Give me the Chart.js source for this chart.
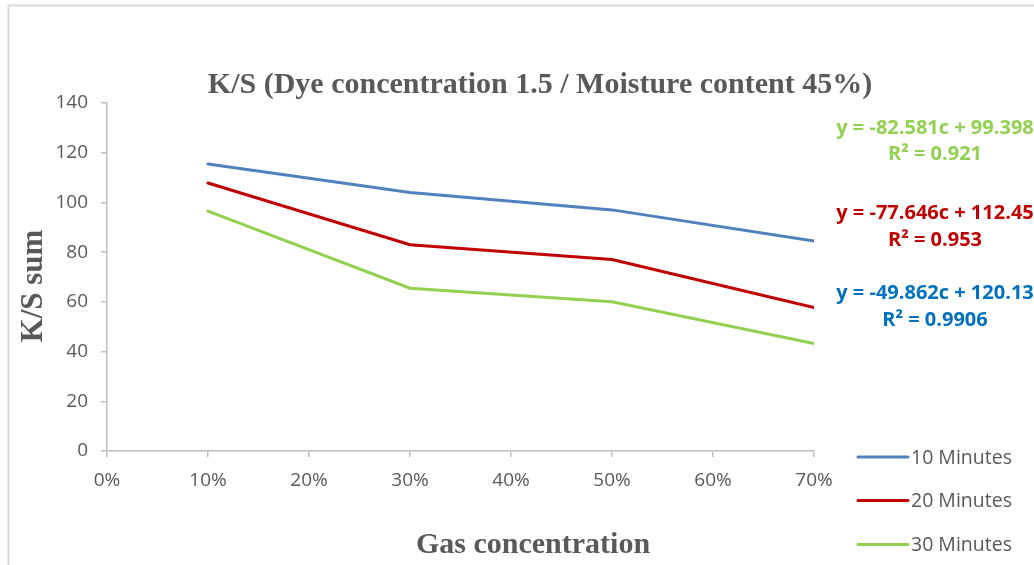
<!DOCTYPE html>
<html>
<head>
<meta charset="utf-8">
<style>
  html, body { margin: 0; padding: 0; background: #ffffff; }
  #wrap { position: relative; width: 1034px; height: 565px; }
</style>
<script src="https://cdn.jsdelivr.net/npm/chart.js@4/dist/chart.umd.min.js"></script>
</head>
<body>
<div id="wrap"><canvas id="chart"></canvas></div>
<script>
// Gas concentration (fraction) and K/S sums per dyeing time
const gasConcentration = [0.1, 0.3, 0.5, 0.7];
const seriesNames = ['10 Minutes', '20 Minutes', '30 Minutes'];
const ks10 = [115.5, 104, 97, 84.5];
const ks20 = [107.8, 83, 77, 57.7];
const ks30 = [96.5, 65.5, 60, 43.2];
const yTicks = [0, 20, 40, 60, 80, 100, 120, 140];
const xTicks = [0, 0.1, 0.2, 0.3, 0.4, 0.5, 0.6, 0.7];
const chartTitle = 'K/S (Dye concentration 1.5 / Moisture content 45%)';
const xTitle = 'Gas concentration';
const yTitle = 'K/S sum';
// Linear trendline labels, top to bottom
const trendLabels = [
  ['y = -82.581c + 99.398', 'R² = 0.921'],
  ['y = -77.646c + 112.45', 'R² = 0.953'],
  ['y = -49.862c + 120.13', 'R² = 0.9906']
];

const lineColors = ['#4f81bd', '#c00000', '#92d050'];
const trendColors = ['#92d050', '#c00000', '#0070c0'];
const textGray = '#595959';
const axisGray = '#bfbfbf';
const serif = "'Liberation Serif', 'Times New Roman', serif";
const tickFont = { family: "'Open Sans', sans-serif", size: 19 };

function points(values) {
  return gasConcentration.map((c, i) => ({ x: c, y: values[i] }));
}

// Frame, titles, trendline equations and legend drawn around the plot
const extras = {
  id: 'extras',
  beforeDraw(chart) {
    const ctx = chart.ctx;
    ctx.save();
    ctx.strokeStyle = '#d9d9d9';
    ctx.lineWidth = 2;
    ctx.beginPath();
    ctx.moveTo(8.5, 565);
    ctx.lineTo(8.5, 5.5);
    ctx.lineTo(1034, 5.5);
    ctx.stroke();
    ctx.restore();
  },
  afterDraw(chart) {
    const ctx = chart.ctx;
    ctx.save();
    ctx.fillStyle = textGray;
    ctx.textAlign = 'center';
    ctx.textBaseline = 'alphabetic';
    ctx.font = 'bold 30px ' + serif;
    ctx.fillText(chartTitle, 540, 93);
    ctx.font = 'bold 30px ' + serif;
    ctx.fillText(xTitle, 533, 553);
    ctx.save();
    ctx.translate(42, 286);
    ctx.rotate(-Math.PI / 2);
    ctx.font = 'bold 31px ' + serif;
    ctx.fillText(yTitle, 0, 0);
    ctx.restore();

    // trendline equations
    ctx.font = "bold 20px 'Open Sans', sans-serif";
    ctx.textBaseline = 'middle';
    const eqY = [[128, 154], [213, 240], [293, 320]];
    trendLabels.forEach((lines, i) => {
      ctx.fillStyle = trendColors[i];
      ctx.fillText(lines[0], 935, eqY[i][0]);
      ctx.fillText(lines[1], 935, eqY[i][1]);
    });

    // legend
    ctx.font = "19.5px 'Open Sans', sans-serif";
    ctx.textAlign = 'left';
    const legY = [457, 500.5, 544.5];
    chart.data.datasets.forEach((ds, i) => {
      ctx.strokeStyle = ds.borderColor;
      ctx.lineWidth = 3;
      ctx.lineCap = 'round';
      ctx.beginPath();
      ctx.moveTo(858, legY[i]);
      ctx.lineTo(908, legY[i]);
      ctx.stroke();
      ctx.fillStyle = textGray;
      ctx.fillText(ds.label, 911, legY[i] + 1);
    });
    ctx.restore();
  }
};

new Chart(document.getElementById('chart'), {
  type: 'line',
  data: {
    datasets: [ks10, ks20, ks30].map((vals, i) => ({
      label: seriesNames[i],
      data: points(vals),
      borderColor: lineColors[i],
      backgroundColor: lineColors[i],
      borderWidth: 3,
      pointRadius: 0,
      tension: 0,
      borderCapStyle: 'round'
    }))
  },
  options: {
    responsive: true,
    maintainAspectRatio: false,
    animation: false,
    events: [],
    layout: { padding: { top: 103, right: 220, bottom: 0, left: 0 } },
    plugins: {
      legend: { display: false },
      tooltip: { enabled: false },
      title: { display: false }
    },
    scales: {
      x: {
        type: 'linear',
        min: 0,
        max: 0.7,
        afterBuildTicks(scale) { scale.ticks = xTicks.map(v => ({ value: v })); },
        afterFit(scale) { scale.height = 114; },
        ticks: {
          color: textGray,
          font: tickFont,
          padding: 12,
          maxRotation: 0,
          callback: v => Math.round(v * 100) + '%'
        },
        grid: { display: true, drawOnChartArea: false, drawTicks: true, tickLength: 6, color: axisGray, lineWidth: 1.5 },
        border: { display: true, color: axisGray, width: 1.5 }
      },
      y: {
        min: 0,
        max: 140,
        afterBuildTicks(scale) { scale.ticks = yTicks.map(v => ({ value: v })); },
        afterFit(scale) { scale.width = 107; },
        ticks: { color: textGray, font: tickFont, padding: 13 },
        grid: { display: true, drawOnChartArea: false, drawTicks: true, tickLength: 6, color: axisGray, lineWidth: 1.5 },
        border: { display: true, color: axisGray, width: 1.5 }
      }
    }
  },
  plugins: [extras]
});
</script>
</body>
</html>
